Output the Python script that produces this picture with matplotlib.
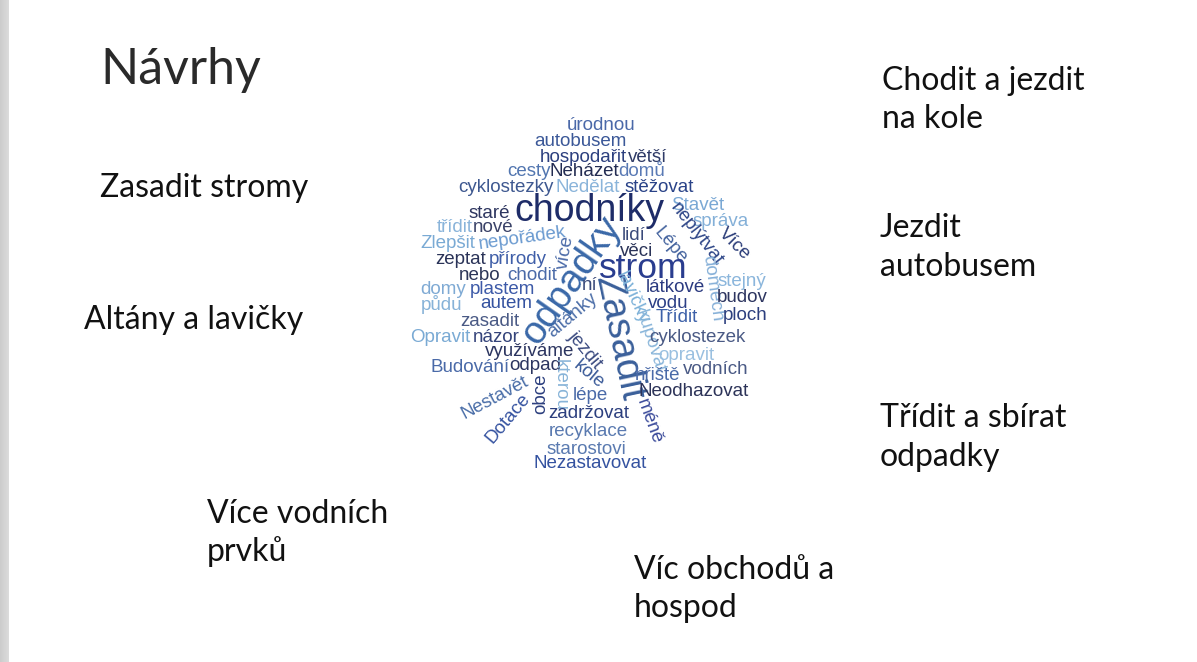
import matplotlib.pyplot as plt
import numpy as np

# slide texts (left x, baseline y in px)
title = "Návrhy"
ideas = [
    ("Zasadit stromy", 100, 197),
    ("Altány a lavičky", 84, 329),
    ("Více vodních", 207, 523),
    ("prvků", 207, 561),
    ("Víc obchodů a", 634, 579),
    ("hospod", 634, 617),
    ("Chodit a jezdit", 882, 90),
    ("na kole", 882, 128),
    ("Jezdit", 880, 237),
    ("autobusem", 880, 276),
    ("Třídit a sbírat", 880, 427),
    ("odpadky", 880, 466),
]

# word cloud words
cloud_words = [
    "úrodnou", "autobusem", "hospodařit", "větší", "cesty", "Neházet", "domů",
    "cyklostezky", "Nedělat", "stěžovat", "staré", "chodníky", "Stavět", "správa",
    "třídit", "nové", "Zlepšit", "nepořádek", "zeptat", "přírody", "více",
    "odpadky", "lidí", "Lépe", "neplýtvat", "Více", "věci", "strom", "domech",
    "stejný", "budov", "ploch", "nebo", "chodit", "domy", "plastem", "ní",
    "Zasadit", "látkové", "vodu", "Třídit", "půdu", "autem", "zasadit",
    "altánky", "lavičky", "kupovat", "Opravit", "názor", "cyklostezek",
    "opravit", "využíváme", "jezdit", "Budování", "odpad", "vodních", "hřiště",
    "kole", "Neodhazovat", "Nestavět", "obce", "kterou", "lépe", "Dotace",
    "zadržovat", "méně", "recyklace", "starostovi", "Nezastavovat",
]

# layout of the cloud (centre x, centre y in px, size in pt, rotation, colour)
cloud_x = [601, 580, 583, 648, 529, 584, 642,
           506, 588, 659, 489, 589, 698, 721,
           455, 493, 448, 522, 461, 518, 565,
           572, 634, 670, 697, 734, 637, 643, 712,
           742, 742, 745, 480, 532, 443, 502, 590,
           619, 675, 668, 677, 442, 506, 490,
           573, 632, 650, 440, 496, 697,
           686, 530, 585, 470, 535, 716, 658,
           589, 694, 495, 541, 560, 590, 508,
           589, 649, 588, 586, 590]
cloud_y = [125, 141, 157, 157, 172, 172, 172,
           187, 187, 187, 214, 211, 205, 222,
           227, 227, 243, 238, 259, 259, 252,
           280, 236, 245, 234, 244, 251, 269, 288,
           282, 298, 315, 275, 275, 289, 290, 285,
           338, 288, 304, 318, 305, 304, 321,
           315, 298, 342, 337, 337, 338,
           355, 351, 350, 368, 366, 369, 375,
           375, 391, 398, 394, 385, 395, 418,
           413, 421, 431, 449, 464]
big = {"chodníky": 27, "strom": 25.5, "odpadky": 28, "Zasadit": 28}
rots = {"nepořádek": 8, "více": 80, "odpadky": 55, "Lépe": -50, "neplýtvat": -52,
        "Více": -45, "domech": -82, "Zasadit": -78, "altánky": 40, "lavičky": -65,
        "kupovat": -72, "jezdit": -50, "kole": -40, "Nestavět": 28, "obce": 90,
        "kterou": -90, "Dotace": 50, "méně": -70}
cloud_size = [big.get(w, 13.5) for w in cloud_words]
cloud_rot = [rots.get(w, 0) for w in cloud_words]

cloud_color = ['#4a68a8', '#3b5898', '#2c3f7e', '#2e3a66', '#5276b0', '#232c52', '#5a7ab5',
               '#3e5890', '#8ab4da', '#2a4388', '#2e3660', '#1e2c68', '#7aa8d4', '#84b0d8',
               '#8ab4da', '#3a4268', '#7aaad4', '#6a9ad0', '#2a3358', '#3f5ea8', '#4a6aa8',
               '#3a68a8', '#3a4a7a', '#44639e', '#2d4587', '#2a3c78', '#2a3358', '#2a3d8f', '#86b0d8',
               '#8bb6dc', '#2d3560', '#2c3f7e', '#2c3558', '#4a6aa8', '#7faad4', '#3d5aa8', '#3a4a7a',
               '#3a5f9a', '#2b3a80', '#2c3f86', '#3c60a8', '#86b2d8', '#3452a0', '#4a5a85',
               '#4c6ea8', '#7ab0d8', '#8ab6da', '#7aaad4', '#34437a', '#4a5a85',
               '#9ac0e0', '#2c3560', '#3a4a80', '#4a6aa8', '#2c3560', '#4a5a85', '#4a6aa8',
               '#3a5a98', '#2c3358', '#4a6ea8', '#2c3f7e', '#88b4d8', '#4a6aa8', '#3452a0',
               '#2c3f7e', '#3a4a9a', '#5a7ab0', '#5a7ab0', '#3452a0']

W, H = 1197, 662
fig = plt.figure(figsize=(W / 100, H / 100), dpi=100)
ax = fig.add_axes([0, 0, 1, 1])
ax.set_xlim(0, W)
ax.set_ylim(H, 0)
ax.axis('off')

# shadow strip on the left edge
grad = np.linspace(0.80, 0.86, 20).reshape(1, -1)
ax.imshow(grad, cmap='gray', vmin=0, vmax=1, extent=[0, 9, H, 0], aspect='auto')

ax.text(100, 84, title, fontsize=36, family='Lato', color='#2a2a2a',
        va='baseline', ha='left')
for txt, x, y in ideas:
    ax.text(x, y, txt, fontsize=23, family='Lato', color='#111111',
            va='baseline', ha='left')

for w, x, y, s, r, c in zip(cloud_words, cloud_x, cloud_y, cloud_size, cloud_rot, cloud_color):
    ax.text(x, y, w, fontsize=s, family='Liberation Sans', color=c,
            rotation=r, rotation_mode='anchor', ha='center', va='center')

fig.savefig('out.png', dpi=100, facecolor='white')
